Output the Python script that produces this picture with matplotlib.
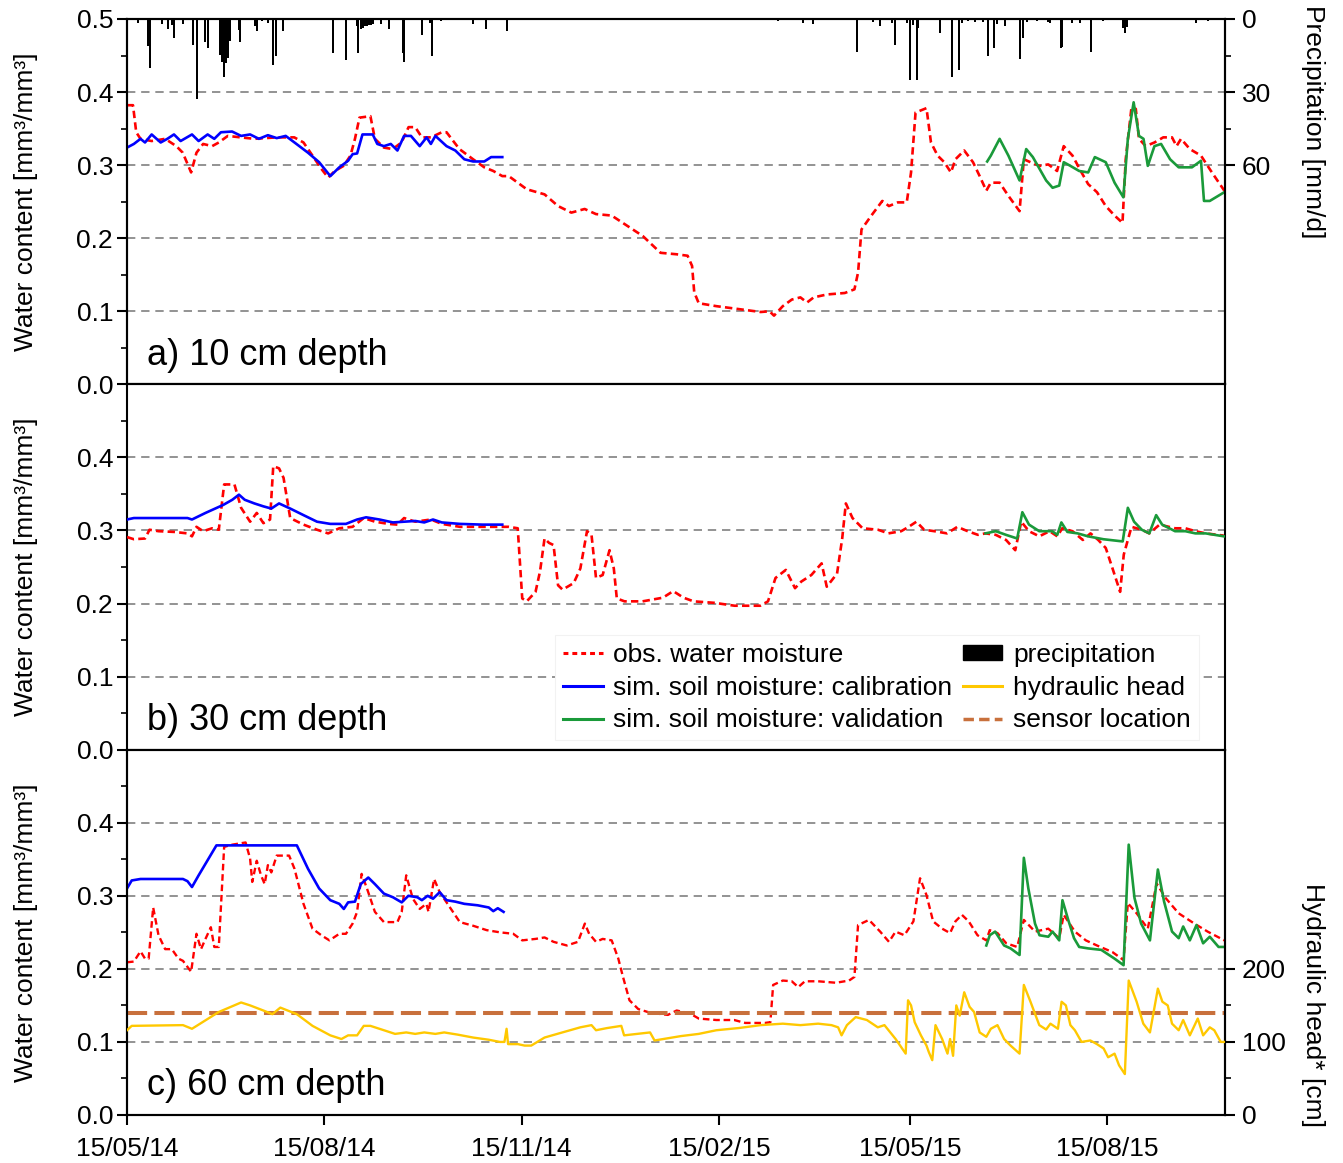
import matplotlib
matplotlib.use('Agg')
import matplotlib.pyplot as plt
import numpy as np
import matplotlib.dates as mdates
from matplotlib.ticker import FixedLocator
from matplotlib.lines import Line2D
from matplotlib.patches import Patch
from matplotlib.font_manager import FontProperties

# ---------------- data (days since 15/05/2014, value) ----------------
START = np.datetime64('2014-05-15T00:00')
END_DAY = 512

precip = [(5.3,1.8),(9.8,11),(10.7,20),(16.2,2),(19.1,4),(20.8,2.5),(21.9,7.6),(26.1,2),(30.8,10.7),
          (32.5,33),(36.4,9.3),(37.8,12),(43.4,14.8),(44.3,17.5),(45.2,24),(46.2,18),(47.1,16),(48,9),
          (52.2,4.5),(52.7,9.3),(59.7,3),(60.5,5),(63,1),(65.7,1.5),(68.1,19),(69.5,15),(72.7,5),(80.7,0.5),
          (96.1,14),(102.1,17),(107.3,3),(107.7,14),(109.1,4),(110,3.5),(111,3),(111.9,3),(112.8,2.5),
          (113.8,2.5),(114.7,2),(118.4,2),(122.2,4),(128.7,14),(129.2,17.5),(137.4,6.5),(141.3,1.5),
          (142.1,15),(146.4,0.8),(161.3,2),(167.4,4),(177.2,5),(303.7,0.8),(315.1,1.8),(319.8,2.2),
          (340.3,13.4),(348,1.1),(351.1,2.7),(356.6,1.8),(358.1,10.7),(363.6,1.8),(365.1,25),(366.7,2.5),
          (368.2,25),(369,3.8),(379.1,5.9),(384.6,23.9),(388.1,20.9),(389.2,1.8),(392.3,1),(395.4,1.4),
          (399.3,1.1),(401.6,15),(404.3,12),(405.5,2.2),(409.4,2.7),(416.4,16.4),(417.7,7.9),(419.5,1.4),
          (424.2,0.8),(429.6,1.4),(430.4,1.8),(435.5,12),(436.1,11.7),(440.5,1.8),(444.4,1.8),(449.4,13.4),
          (455.3,0.8),(464.6,3.8),(465.4,5.9),(466.2,3.1),(498.5,1.8),(504.2,0.8)]

obs10 = [(0,.382),(2.8,.382),(4.3,.345),(6.3,.336),(11.5,.333),(17.8,.336),(23,.326),(26,.317),(29.9,.290),
         (32.4,.317),(35.5,.329),(39.7,.326),(42.8,.331),(47,.340),(53,.338),(59.4,.336),(69.8,.338),(78,.338),
         (82.3,.331),(86.5,.313),(90.6,.295),(93.8,.283),(96.9,.292),(101,.299),(104.2,.313),(106.3,.336),
         (108.4,.365),(113.5,.367),(115.6,.336),(119.8,.324),(123.9,.322),(128,.331),(131.3,.352),(134.4,.352),
         (137.5,.338),(141.7,.338),(146.8,.345),(149,.345),(155,.322),(161.4,.308),(166.6,.297),(170.8,.292),
         (175,.285),(178,.285),(186.4,.267),(194.7,.260),(201,.244),(207.2,.235),(213.4,.240),(218.7,.233),
         (226,.231),(232.2,.219),(240.5,.203),(248.8,.180),(256.3,.178),(261.4,.176),(263.5,.162),(264.5,.126),
         (266.6,.111),(274.8,.107),(285.2,.103),(295.5,.099),(299.6,.100),(301.7,.094),(305.8,.107),(310,.116),
         (314,.119),(317.1,.112),(320.2,.119),(326.4,.123),(334.7,.125),(339.2,.130),(340.9,.153),(342.5,.212),
         (347.1,.231),(352.2,.251),(355.3,.244),(359.4,.249),(363.6,.249),(365.6,.290),(367.7,.372),(372.8,.378),
         (374.9,.331),(378,.313),(381.1,.304),(384.2,.290),(386.3,.308),(390.4,.320),(394.5,.304),(397.6,.285),
         (400.7,.265),(402.8,.276),(406.9,.276),(411,.258),(416.2,.237),(418.2,.308),(421.3,.304),(425.5,.299),
         (429.6,.301),(433.7,.292),(436.8,.326),(440.9,.313),(445.1,.290),(448.2,.274),(452.3,.263),(456.4,.244),
         (460.5,.231),(464.2,.221),(465.7,.308),(468.4,.379),(470.4,.377),(471.9,.336),(475,.326),(479.1,.331),
         (483.2,.338),(487.3,.338),(489.4,.326),(491.5,.336),(495.6,.322),(500.8,.313),(505.9,.290),(511.7,.265)]

cal10 = [(0,.324),(3.2,.329),(6.3,.336),(8.4,.331),(11.5,.342),(15.7,.331),(18.8,.336),(21.9,.342),(25,.333),
         (30.3,.342),(33.4,.333),(37.6,.342),(40.7,.336),(43.8,.345),(49,.346),(53.2,.340),(57.4,.342),(61.5,.336),
         (65.7,.341),(69.8,.337),(74,.340),(78.1,.331),(84.4,.317),(89.6,.304),(94.8,.285),(99,.297),(103.1,.306),
         (105.2,.315),(107.3,.316),(109.8,.342),(114.6,.342),(116.7,.329),(119.8,.326),(123,.329),(126.1,.320),
         (129.2,.340),(132.4,.340),(136.5,.326),(139.7,.338),(141.7,.329),(143.8,.340),(149,.326),(153.1,.320),
         (157.3,.308),(161.4,.305),(166.6,.305),(169.8,.311),(175,.311)]

val10 = [(401.1,.305),(402.8,.313),(406.9,.336),(411,.313),(416.2,.279),(419.3,.322),(422.4,.311),(425.5,.295),
         (428.6,.279),(431.6,.269),(434.7,.272),(436.8,.304),(439.9,.299),(444,.292),(448.2,.290),(451.3,.311),
         (456.4,.304),(460.5,.276),(464.6,.256),(466.7,.336),(469.4,.386),(471.9,.340),(474,.336),(476,.299),
         (479.1,.326),(482.2,.329),(486.4,.308),(490.4,.297),(496.6,.297),(500.8,.306),(502.2,.251),(504.9,.251),
         (511.7,.263)]

obs30 = [(0,.291),(3.2,.288),(8.4,.289),(10.5,.301),(14.7,.299),(22,.298),(28.2,.296),(30.3,.292),(32.4,.305),
         (35.5,.299),(39.7,.303),(42.8,.301),(45.3,.363),(50.1,.363),(53.2,.331),(57.4,.312),(60.5,.324),
         (63.6,.310),(66.7,.315),(68.2,.388),(70.9,.385),(73,.372),(76.1,.317),(82.3,.308),(88.6,.301),(93.8,.296),
         (99,.303),(105.2,.305),(110.4,.317),(115.6,.312),(121.9,.309),(126.1,.308),(129.2,.317),(134.4,.312),
         (141.7,.315),(146.8,.309),(155.2,.305),(163.5,.305),(171.8,.305),(178,.305),(182.2,.303),(184.3,.207),
         (186.4,.203),(190.5,.216),(192.6,.244),(194.7,.289),(196.8,.283),(198.9,.280),(201,.225),(203.1,.219),
         (208.3,.228),(211.4,.248),(214.5,.299),(216.6,.294),(218.7,.235),(221.8,.239),(225,.273),(227,.248),
         (228.4,.207),(232,.203),(240.4,.203),(249.9,.208),(254.7,.217),(259.5,.208),(264.2,.203),(273.8,.201),
         (283.3,.197),(295.3,.197),(298.9,.203),(302.4,.235),(307.2,.246),(311.5,.221),(314.4,.230),(319.1,.239),
         (323.9,.255),(326.3,.223),(331.1,.241),(333.5,.289),(335.2,.337),(338.3,.317),(343,.303),(350.2,.301),
         (355,.296),(361,.299),(364.5,.305),(368.1,.312),(371.7,.301),(376.5,.299),(382.4,.296),(387.2,.305),
         (392,.299),(396.8,.294),(400.3,.296),(405.1,.294),(409.9,.287),(414.2,.273),(417,.312),(420.6,.299),
         (425.4,.292),(430.2,.299),(433.8,.292),(436.1,.303),(440.9,.299),(445.7,.287),(449.3,.296),(452.9,.287),
         (456.4,.276),(460,.244),(463.1,.216),(464.8,.267),(468.4,.305),(473.2,.301),(476.7,.296),(481.5,.308),
         (488.7,.303),(493.5,.303),(498.2,.299),(503,.296),(511.4,.293)]

cal30 = [(0,.315),(3.2,.317),(28.2,.317),(30.3,.315),(36.6,.324),(44.9,.335),(49.1,.342),(52.2,.349),(54.9,.342),
         (59.4,.337),(63.6,.333),(67.3,.330),(70.9,.337),(76.1,.330),(82.3,.321),(88.6,.312),(94.8,.309),
         (102.1,.309),(107.3,.315),(111.5,.318),(117.7,.315),(124,.311),(129.2,.312),(134.4,.313),(138.6,.311),
         (142.7,.315),(146.8,.311),(155.2,.309),(165.6,.308),(175,.308)]

val30 = [(400.3,.296),(405.1,.299),(409.9,.294),(415.1,.289),(417.5,.325),(420.6,.308),(425.4,.299),(431.4,.299),
         (433.8,.294),(435.7,.311),(438.5,.298),(443.3,.296),(448.1,.292),(455.3,.288),(464.3,.285),(466.7,.331),
         (469.6,.312),(473.2,.301),(476.7,.296),(479.9,.321),(482.7,.308),(488.7,.299),(493.5,.299),(498.2,.296),
         (503,.296),(511.4,.292)]

obs60 = [(0,.209),(3.2,.210),(6.3,.224),(8.4,.214),(10.1,.214),(12.2,.284),(14.7,.246),(17.8,.227),(20.9,.227),
         (24,.214),(26.1,.211),(29.9,.196),(32.4,.248),(34.5,.227),(36.6,.241),(39.1,.257),(40.7,.230),(42.8,.230),
         (45.3,.367),(49.1,.370),(55.3,.373),(57.4,.351),(58.4,.319),(60.5,.348),(62.5,.328),(64.2,.316),
         (65.7,.342),(67.3,.332),(69.8,.355),(75.6,.355),(78.1,.337),(82.3,.289),(86.5,.255),(90.6,.246),
         (94.4,.239),(99,.248),(102.1,.248),(105.2,.262),(107.3,.278),(109.4,.330),(111.9,.310),(115.6,.278),
         (119.8,.264),(126.1,.264),(128.1,.278),(130.2,.328),(133.3,.296),(136.5,.282),(139.6,.289),(140.6,.278),
         (143.2,.323),(145.8,.305),(149,.291),(155.2,.264),(161.4,.259),(167.7,.253),(173.9,.250),(180.1,.248),
         (184.3,.239),(190.5,.241),(194.7,.243),(198.9,.237),(205.1,.232),(210.3,.237),(213.5,.262),(215.5,.248),
         (218.7,.237),(221.8,.241),(226,.239),(229.1,.214),(231.1,.191),(234.3,.157),(238.4,.145),(243.9,.140),
         (252.2,.137),(256.3,.143),(262.5,.139),(266.6,.132),(274.8,.130),(283.1,.130),(288.3,.126),(297.5,.126),
         (300,.127),(301.3,.178),(305.8,.184),(310,.183),(313,.175),(316.1,.183),(322.3,.183),(330.6,.181),
         (336.7,.184),(339.2,.189),(340.9,.260),(346,.267),(351.2,.251),(355.3,.237),(358.4,.251),(362.5,.246),
         (366.7,.265),(369.8,.324),(372.8,.301),(375.9,.265),(380.1,.255),(383.8,.249),(386.3,.265),(389.3,.274),
         (392.5,.265),(396.6,.246),(400.7,.239),(402.3,.253),(405.9,.249),(410,.235),(415.1,.230),(418.2,.267),
         (423.4,.251),(429.6,.255),(434.7,.242),(436.8,.274),(442,.251),(447.1,.239),(452.3,.232),(459.5,.223),
         (464.7,.212),(466.7,.290),(470.8,.276),(476,.255),(480.1,.317),(484.3,.297),(490.4,.276),(497.7,.262),
         (503.9,.251),(511.7,.239)]

cal60 = [(0,.310),(2.2,.321),(6.3,.323),(26.1,.323),(28.2,.320),(30.3,.312),(33.4,.328),(41.7,.369),(79.2,.369),
         (84.4,.337),(89.6,.310),(94.8,.294),(99,.289),(101.1,.282),(103.1,.291),(106.3,.292),(109,.316),
         (112.5,.325),(115.6,.316),(119.8,.303),(124,.298),(128.1,.291),(131.2,.300),(135.4,.298),(137.5,.294),
         (140.2,.300),(142.7,.296),(145.8,.305),(149,.294),(153.1,.292),(157.3,.289),(163.5,.287),(168.7,.284),
         (170.8,.279),(172.9,.283),(175.6,.278)]

val60 = [(400.7,.232),(402.3,.246),(404.8,.251),(409,.232),(412,.228),(416.2,.219),(418.2,.352),(420.3,.310),
         (423.4,.262),(425.5,.246),(429.6,.244),(431.6,.251),(434.7,.239),(436.2,.294),(438.9,.267),(441.6,.242),
         (444,.230),(448.2,.228),(454.3,.226),(460.5,.214),(464.7,.205),(467.1,.370),(469.8,.297),(472.9,.262),
         (477,.239),(480.7,.336),(483.6,.292),(487.3,.251),(490.4,.242),(492.5,.258),(495.6,.239),(498.7,.260),
         (501.8,.235),(504.9,.244),(509,.230),(511.7,.230)]

head60 = [(0,116),(2.2,122),(26.1,123),(30.3,118),(42.8,141),(53.2,154),(57.4,150),(63.6,143),(67.8,138),
          (71.5,147),(79.2,138),(86.5,122),(94.8,109),(100,104),(103.1,109),(107.3,109),(110.4,122),(113.5,122),
          (119.8,116),(125,111),(130.2,113),(134.4,111),(138.6,113),(143.8,111),(147.9,113),(154.2,110),
          (161.4,106),(168.7,103),(173.9,100),(176,100),(177,118),(177.7,97),(182.3,97),(185.4,95),(188.5,95),
          (194.7,106),(203,113),(211.4,120),(216.6,123),(218.7,116),(223.9,119),(230.5,122),(231.8,109),
          (243.9,113),(246,102),(250.1,104),(258.3,108),(266.6,111),(274.8,116),(285.2,119),(295.5,123),
          (305.8,125),(314,123),(322.3,125),(328.5,123),(331.6,120),(333.2,109),(335.7,123),(339.8,134),
          (345,130),(350.1,120),(353.2,123),(358.4,104),(363.1,84),(364.2,157),(365.6,150),(367.3,127),
          (370.2,109),(372.8,95),(373.9,86),(375.5,75),(377,123),(380.1,104),(382.6,84),(383.8,104),(385.2,81),
          (386.7,150),(388.3,136),(390.4,168),(392.9,148),(395,141),(397.6,113),(400.7,107),(402.8,118),
          (405.9,123),(409,104),(412,95),(416.2,84),(418.2,178),(421.3,155),(425.4,123),(428.6,117),(430.6,125),
          (434.1,118),(435.8,155),(437.8,150),(439.9,123),(442,116),(445.1,100),(449.2,102),(452.3,97),
          (455.4,91),(457.5,79),(460.5,84),(462.6,68),(465.3,56),(467.1,184),(470.8,155),(473.9,125),(477,113),
          (480.7,173),(482.8,155),(485.3,150),(487.3,125),(490.4,116),(492.5,130),(495.6,109),(499.3,132),
          (501.8,109),(504.9,120),(507,116),(510,100),(511.7,100)]

sensor_head = 140
panel_labels = ['a) 10 cm depth', 'b) 30 cm depth', 'c) 60 cm depth']
xtick_dates = ['2014-05-15', '2014-08-15', '2014-11-15', '2015-02-15', '2015-05-15', '2015-08-15']
legend_labels = ['obs. water moisture', 'sim. soil moisture: calibration', 'sim. soil moisture: validation',
                 'precipitation', 'hydraulic head', 'sensor location']

# ---------------- styling ----------------
REG = ['Liberation Sans', 'DejaVu Sans']
plt.rcParams['font.family'] = REG
plt.rcParams['axes.linewidth'] = 1.5

C_OBS = '#FF0000'
C_CAL = '#0000FF'
C_VAL = '#1A9A3A'
C_HEAD = '#FFC800'
C_SENS = '#C8703C'
OBS_LS = (0, (2.8, 1.6))
GRID_LS = (0, (5, 3.5))
TICK_FS = 19


def split(pairs):
    d = np.array([p[0] for p in pairs], dtype=float)
    v = np.array([p[1] for p in pairs], dtype=float)
    t = START + np.round(d * 24 * 60).astype('timedelta64[m]')
    return t, v


fig = plt.figure(figsize=(13.43, 11.63), dpi=100)
L, R = 127 / 1343, 1225 / 1343
B, T = 1 - 1115 / 1163, 1 - 19 / 1163
H = (T - B) / 3
axes = [fig.add_axes([L, B + (2 - i) * H, R - L, H]) for i in range(3)]

xmin = START
xmax = START + np.timedelta64(END_DAY * 24 * 60, 'm')

for i, ax in enumerate(axes):
    ax.set_xlim(xmin, xmax)
    ax.set_ylim(0, 0.5)
    for g in (0.1, 0.2, 0.3, 0.4):
        ax.axhline(g, color='#808080', lw=1.2, ls=GRID_LS, zorder=0)
    ax.yaxis.set_major_locator(FixedLocator([0, 0.1, 0.2, 0.3, 0.4, 0.5] if i == 0 else [0, 0.1, 0.2, 0.3, 0.4]))
    ax.yaxis.set_minor_locator(FixedLocator([0.05, 0.15, 0.25, 0.35, 0.45]))
    ax.yaxis.set_major_formatter(matplotlib.ticker.FormatStrFormatter('%.1f'))
    ax.tick_params(axis='y', which='major', direction='out', length=7, width=1.5, labelsize=TICK_FS, pad=3)
    ax.tick_params(axis='y', which='minor', direction='out', length=4, width=1.2)
    ax.set_ylabel('Water content [mm³/mm³]', fontsize=19)
    ax.yaxis.set_label_coords(-0.081, 0.5)
    ax.text(0.018, 0.08, panel_labels[i], transform=ax.transAxes, fontsize=26, va='center', ha='left')
    if i < 2:
        ax.tick_params(axis='x', which='both', bottom=False, labelbottom=False)

# x ticks on bottom panel
ax3 = axes[2]
ax3.xaxis.set_major_locator(FixedLocator(mdates.date2num(np.array(xtick_dates, dtype='datetime64[D]'))))
ax3.xaxis.set_major_formatter(mdates.DateFormatter('%d/%m/%y'))
ax3.xaxis.set_minor_locator(FixedLocator([]))
ax3.tick_params(axis='x', which='major', direction='out', length=7, width=1.5, labelsize=TICK_FS, pad=9)

# panel a
ax1 = axes[0]
t, v = split(obs10); ax1.plot(t, v, color=C_OBS, lw=1.9, ls=OBS_LS, zorder=3)
t, v = split(cal10); ax1.plot(t, v, color=C_CAL, lw=1.9, zorder=4)
t, v = split(val10); ax1.plot(t, v, color=C_VAL, lw=1.9, zorder=4)
axp = ax1.twinx()
t, v = split(precip)
axp.bar(t, v, width=1.0, color='k', linewidth=0, zorder=2)
axp.set_xlim(xmin, xmax)
axp.set_ylim(150, 0)
axp.yaxis.set_major_locator(FixedLocator([0, 30, 60]))
axp.yaxis.set_minor_locator(FixedLocator([15, 45]))
axp.tick_params(axis='y', which='major', direction='out', length=7, width=1.5, labelsize=TICK_FS, pad=5)
axp.tick_params(axis='y', which='minor', direction='out', length=4, width=1.2)

# panel b
ax2 = axes[1]
t, v = split(obs30); ax2.plot(t, v, color=C_OBS, lw=1.9, ls=OBS_LS, zorder=3)
t, v = split(cal30); ax2.plot(t, v, color=C_CAL, lw=1.9, zorder=4)
t, v = split(val30); ax2.plot(t, v, color=C_VAL, lw=1.9, zorder=4)

# panel c
t, v = split(obs60); ax3.plot(t, v, color=C_OBS, lw=1.7, ls=OBS_LS, zorder=3)
t, v = split(cal60); ax3.plot(t, v, color=C_CAL, lw=1.9, zorder=4)
t, v = split(val60); ax3.plot(t, v, color=C_VAL, lw=1.9, zorder=4)
axh = ax3.twinx()
axh.set_xlim(xmin, xmax)
axh.set_ylim(0, 500)
axh.axhline(sensor_head, color=C_SENS, lw=2.9, ls=(0, (5, 1.8)), zorder=2)
t, v = split(head60); axh.plot(t, v, color=C_HEAD, lw=1.7, zorder=3)
axh.yaxis.set_major_locator(FixedLocator([0, 100, 200]))
axh.yaxis.set_minor_locator(FixedLocator([50, 150]))
axh.tick_params(axis='y', which='major', direction='out', length=7, width=1.5, labelsize=TICK_FS, pad=5)
axh.tick_params(axis='y', which='minor', direction='out', length=4, width=1.2)

# right axis titles
fig.text(1313 / 1343, 1 - 122 / 1163, 'Precipitation [mm/d]', rotation=270, ha='center', va='center',
         fontsize=19)
fig.text(1313 / 1343, 1 - 1005 / 1163, 'Hydraulic head* [cm]', rotation=270, ha='center', va='center',
         fontsize=19)

# legend
handles = [Line2D([], [], color=C_OBS, lw=2.2, ls=(0, (1.6, 1.3))),
           Line2D([], [], color=C_CAL, lw=2.2),
           Line2D([], [], color=C_VAL, lw=2.2),
           Patch(facecolor='k', edgecolor='k'),
           Line2D([], [], color=C_HEAD, lw=2.2),
           Line2D([], [], color=C_SENS, lw=2.5, ls=(0, (3, 1.5)))]
leg = ax2.legend(handles, legend_labels, loc='lower right', bbox_to_anchor=(0.988, -0.01), ncol=2,
                 prop=FontProperties(family=REG, size=19), frameon=True, fancybox=False,
                 edgecolor='#f2f2f2', facecolor='white', framealpha=1, borderpad=0.3,
                 handlelength=1.5, handleheight=0.55, handletextpad=0.4, columnspacing=0.4, labelspacing=0.33)
leg.get_frame().set_linewidth(0.8)
leg.set_zorder(10)

fig.savefig('out.png', dpi=100)
